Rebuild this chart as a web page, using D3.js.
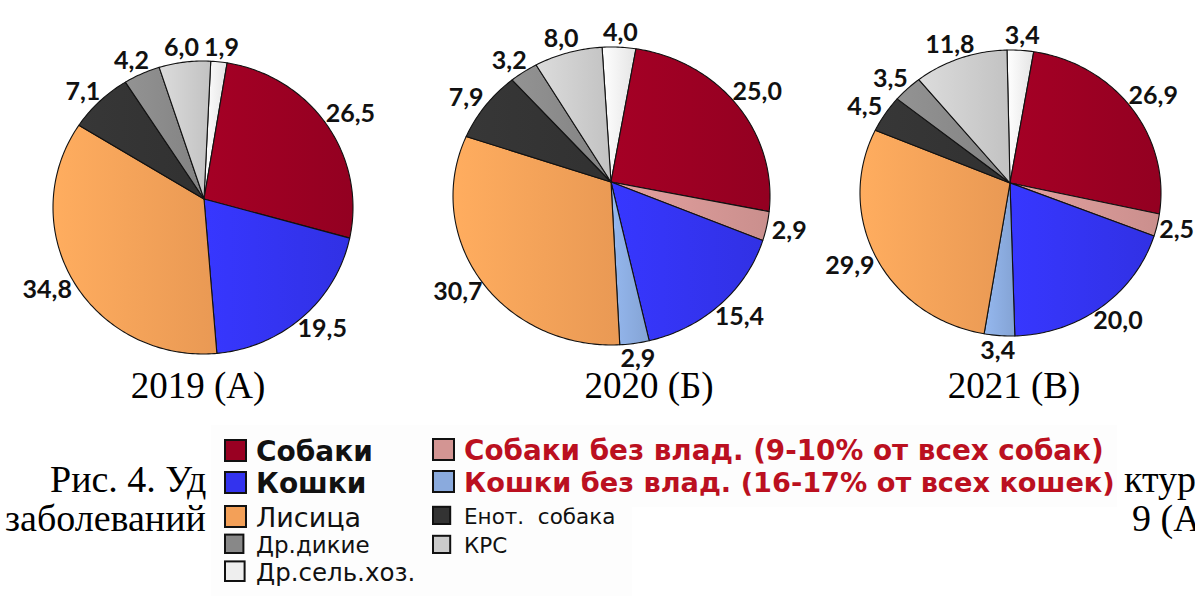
<!DOCTYPE html>
<html><head><meta charset="utf-8">
<script src="https://cdn.jsdelivr.net/npm/d3@7"></script>
<style>body{margin:0;background:#fff}</style>
</head><body><svg id="c" width="1195" height="596" xmlns="http://www.w3.org/2000/svg"></svg>
<script>
// ---- data ----
const categories = ["Др.сель.хоз.", "Собаки", "Собаки без влад.", "Кошки", "Кошки без влад.", "Лисица", "Енот. собака", "Др.дикие", "КРС"];
const values2019 = [1.9, 26.5, 0, 19.5, 0, 34.8, 7.1, 4.2, 6.0];
const values2020 = [4.0, 25.0, 2.9, 15.4, 2.9, 30.7, 7.9, 3.2, 8.0];
const values2021 = [3.4, 26.9, 2.5, 20.0, 3.4, 29.9, 4.5, 3.5, 11.8];
const yearTitles = ["2019 (А)", "2020 (Б)", "2021 (В)"];
const legendCol1 = ["Собаки", "Кошки", "Лисица", "Др.дикие", "Др.сель.хоз."];
const legendCol2 = ["Собаки без влад. (9-10% от всех собак)", "Кошки без влад. (16-17% от всех кошек)", "Енот.  собака", "КРС"];
const legendCol1Cat = ["Собаки", "Кошки", "Лисица", "Др.дикие", "Др.сель.хоз."];
const legendCol2Cat = ["Собаки без влад.", "Кошки без влад.", "Енот. собака", "КРС"];
const captionLeft = ["Рис. 4. Уд", "заболеваний"];
const captionRight = ["ктур", "9 (А"];

// ---- styles ----
const colors = ["#eeeeee", "#990022", "#d39593", "#3333ee", "#8aaadd", "#f3a058", "#333333", "#888888", "#cbcbcb"];
const color = d3.scaleOrdinal().domain(categories).range(colors);

const W = 1195, H = 596;
const svg = d3.select("#c");
svg.append("rect").attr("width", W).attr("height", H).attr("fill", "#fff");
const defs = svg.append("defs");
categories.forEach((c, i) => {
  const base = d3.color(colors[i]);
  const g = defs.append("linearGradient").attr("id", "g" + i).attr("x1", 0).attr("x2", 1).attr("y1", 0).attr("y2", 0);
  g.append("stop").attr("offset", 0).attr("stop-color", base.brighter(0.22).formatHex());
  g.append("stop").attr("offset", 1).attr("stop-color", base.darker(0.12).formatHex());
});

// ---- layout ----
const pies = [
  {values: values2019, vx: 204, vy: 199, cx: 203, cy: 207.5, rx: 150, ry: 146.5, start: 2.8, titleX: 198},
  {values: values2020, vx: 611, vy: 182, cx: 611.5, cy: 196, rx: 158.5, ry: 149, start: -3.8, titleX: 649},
  {values: values2021, vx: 1010, vy: 183, cx: 1010.5, cy: 193, rx: 150.5, ry: 143, start: -1.3, titleX: 1014}
];
const rad = Math.PI / 180;
const fmt = v => d3.format(".1f")(v).replace(".", ",");

function hit(p, a) {
  // ray from the pie vertex at angle a (clockwise from up) to the outline ellipse
  const dx = Math.sin(a), dy = -Math.cos(a);
  const ox = (p.vx - p.cx) / p.rx, oy = (p.vy - p.cy) / p.ry;
  const ux = dx / p.rx, uy = dy / p.ry;
  const A = ux * ux + uy * uy, B = 2 * (ox * ux + oy * uy), C = ox * ox + oy * oy - 1;
  const t = (-B + Math.sqrt(B * B - 4 * A * C)) / (2 * A);
  return [p.vx + t * dx, p.vy + t * dy, t];
}

pies.forEach((p, pi) => {
  const s = p.start * rad;
  const arcs = d3.pie().sort(null).value(d => d.v).startAngle(s).endAngle(s + 2 * Math.PI)(
    p.values.map((v, i) => ({v, c: categories[i], i})));
  const g = svg.append("g");
  arcs.filter(a => a.data.v > 0).forEach(a => {
    const path = d3.path();
    path.moveTo(p.vx, p.vy);
    const n = Math.max(2, Math.ceil((a.endAngle - a.startAngle) / rad));
    for (let k = 0; k <= n; k++) {
      const ang = a.startAngle + (a.endAngle - a.startAngle) * k / n;
      const q = hit(p, ang);
      path.lineTo(q[0], q[1]);
    }
    path.closePath();
    g.append("path").attr("d", path.toString())
      .attr("fill", "url(#g" + a.data.i + ")")
      .attr("stroke", "#111").attr("stroke-width", 1.1).attr("stroke-linejoin", "round");
  });
  svg.append("text").text(yearTitles[pi]).attr("x", p.titleX).attr("y", 398)
    .attr("text-anchor", "middle").attr("font-family", "'Liberation Serif', 'Times New Roman', serif")
    .attr("font-size", 37).attr("fill", "#000");
  // value labels
  arcs.filter(a => a.data.v > 0).forEach(a => {
    const m = (a.startAngle + a.endAngle) / 2;
    const dx = Math.sin(m), dy = -Math.cos(m);
    const q = hit(p, m);
    const pad = 6;
    const t = svg.append("text").text(fmt(a.data.v))
      .attr("font-family", "Lato, 'Open Sans', sans-serif").attr("font-weight", 700)
      .attr("font-size", 25).attr("fill", "#111").attr("text-anchor", "middle");
    const w = t.node().getComputedTextLength();
    const h = 17.5;
    let x = q[0] + dx * pad + dx * w / 2;
    const y = q[1] + dy * pad + dy * h / 2;
    x = Math.min(x, W - w / 2 - 1);
    t.attr("x", x).attr("y", y + h / 2);
  });
});

// ---- caption fragments (document text behind the legend) ----
const capFont = "'Liberation Serif', 'Times New Roman', serif";
const capSize = 38;
svg.append("text").text(captionLeft[0]).attr("x", 50).attr("y", 492).attr("font-family", capFont).attr("font-size", capSize);
svg.append("text").text(captionLeft[1]).attr("x", 5).attr("y", 531).attr("font-family", capFont).attr("font-size", capSize);
svg.append("text").text(captionRight[0]).attr("x", 1124).attr("y", 492).attr("font-family", capFont).attr("font-size", capSize);
svg.append("text").text(captionRight[1]).attr("x", 1132).attr("y", 531).attr("font-family", capFont).attr("font-size", capSize);

// ---- legend ----
svg.append("rect").attr("x", 211).attr("y", 425).attr("width", 906).attr("height", 82).attr("fill", "#fdfdfd");
svg.append("rect").attr("x", 211).attr("y", 505).attr("width", 421).attr("height", 91).attr("fill", "#fdfdfd");
const lf = "'DejaVu Sans', Verdana, sans-serif";
const col1Style = [
  {y: 461, fs: 28, fw: 700}, {y: 493, fs: 28, fw: 700}, {y: 527, fs: 27, fw: 400},
  {y: 553, fs: 23, fw: 400}, {y: 581, fs: 24.5, fw: 400}];
const col2Style = [
  {y: 460, fs: 27.8, fw: 700, fill: "#bb1020"}, {y: 492, fs: 27.2, fw: 700, fill: "#bb1020"},
  {y: 524, fs: 21.5, fw: 400, fill: "#111"}, {y: 553, fs: 21.5, fw: 400, fill: "#111"}];
function legendItem(x, txt, cat, st) {
  const sz = Math.min(21, st.fs * 0.8);
  svg.append("rect").attr("x", x).attr("y", st.y - sz).attr("width", sz).attr("height", sz)
    .attr("fill", color(cat)).attr("stroke", "#111").attr("stroke-width", 2);
  svg.append("text").text(txt).attr("x", x + 31).attr("y", st.y)
    .attr("font-family", lf).attr("font-size", st.fs).attr("font-weight", st.fw)
    .attr("fill", st.fill || "#111").style("white-space", "pre");
}
legendCol1.forEach((t, i) => legendItem(225, t, legendCol1Cat[i], col1Style[i]));
legendCol2.forEach((t, i) => legendItem(433, t, legendCol2Cat[i], col2Style[i]));
</script>
</body></html>
